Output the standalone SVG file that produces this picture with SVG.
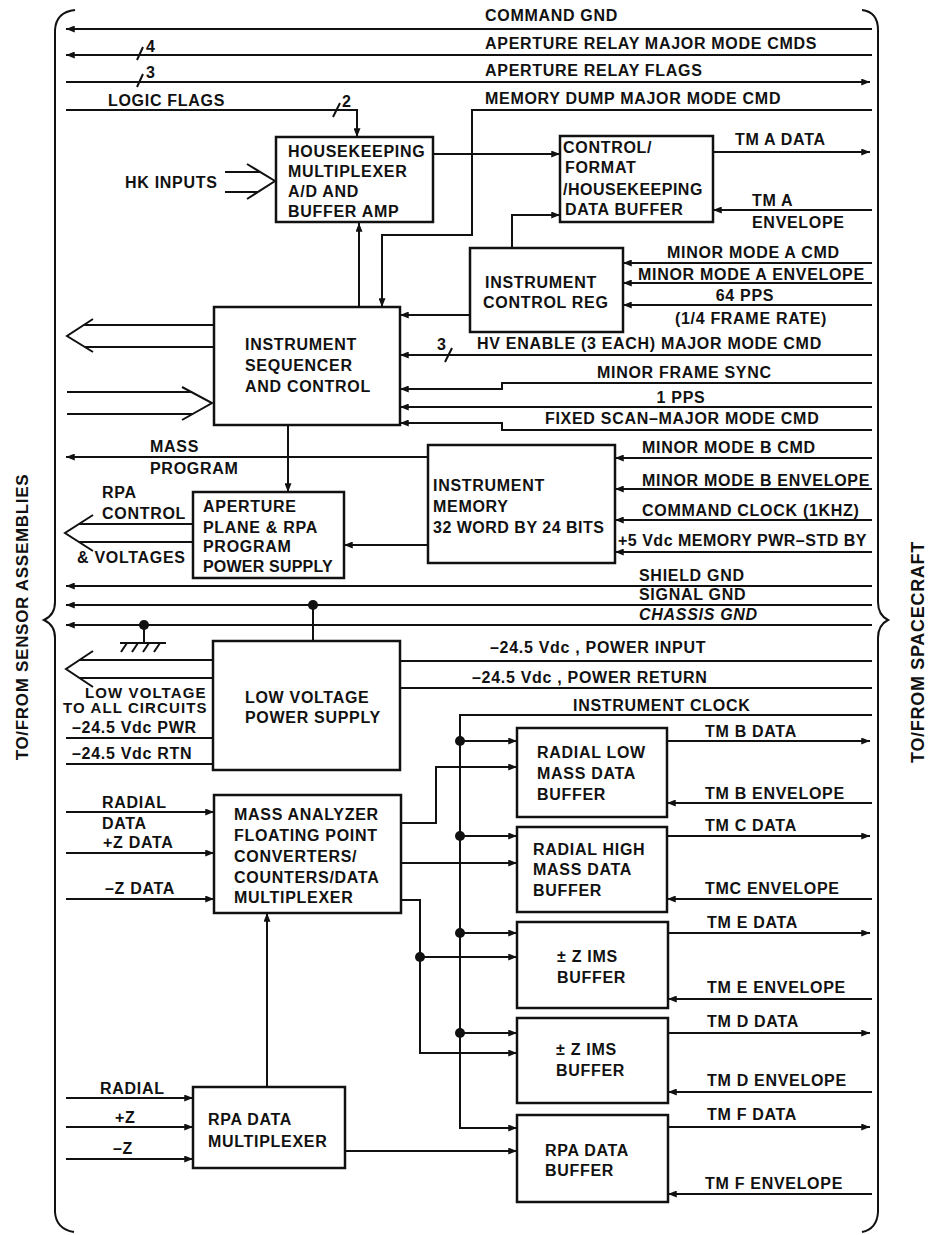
<svg xmlns="http://www.w3.org/2000/svg" width="932" height="1235" viewBox="0 0 932 1235">
<defs>
<style>
text{font-family:"Liberation Sans",Arial,sans-serif;font-weight:bold;font-size:16px;letter-spacing:0.7px;fill:#111}
.m{text-anchor:middle}
.it{font-style:italic}
.s5{letter-spacing:0.5px}
.s3{letter-spacing:0.2px}
.sm{font-size:15px;letter-spacing:1.1px}
.box{fill:#fff;stroke:#111;stroke-width:2.5}
.ln{fill:none;stroke:#111;stroke-width:2}
.ar{marker-end:url(#ah)}
.dot{fill:#111}
</style>
<marker id="ah" viewBox="0 0 10 8" refX="10" refY="4" markerWidth="10" markerHeight="7" markerUnits="userSpaceOnUse" orient="auto"><path d="M0,0 L10,4 L0,8 z" fill="#111"/></marker>
</defs>
<rect width="932" height="1235" fill="#fff"/>

<g id="braces" class="ln">
<path d="M75,10 Q56,12 55,30 V602 Q55,615 44,620 Q55,625 55,638 V1212 Q56,1229 74,1232"/>
<path d="M862,10 Q878,12 878,30 V602 Q878,615 888,620 Q878,625 878,638 V1212 Q877,1229 862,1232"/>
</g>
<text transform="translate(28,617) rotate(-90)" class="m" style="font-size:17px">TO/FROM SENSOR ASSEMBLIES</text>
<text transform="translate(924,652) rotate(-90)" class="m" style="font-size:18px">TO/FROM SPACECRAFT</text>

<g id="connectors" class="ln">
<path class="ar" d="M872,29 H66"/>
<path class="ar" d="M872,55 H66"/>
<path class="ar" d="M66,82 H870"/>
<path class="ar" d="M66,110 H357 V137"/>
<path class="ar" d="M872,110 H472 V235 H382 V307"/>
<path class="ar" d="M433,154 H560"/>
<path class="ar" d="M359,307 V223"/>
<path class="ar" d="M512,248 V215 H560"/>
<path class="ar" d="M713,152 H870"/>
<path class="ar" d="M872,210 H713"/>
<path class="ar" d="M872,263 H623"/>
<path class="ar" d="M872,283 H623"/>
<path class="ar" d="M872,305 H623"/>
<path class="ar" d="M470,315 H400"/>
<path class="ar" d="M872,355 H400"/>
<path class="ar" d="M872,383 H502 V389 H400"/>
<path class="ar" d="M872,407 H400"/>
<path class="ar" d="M872,430 H502 V423 H400"/>
<path class="ar" d="M288,425 V492"/>
<path class="ar" d="M428,457 H66"/>
<path class="ar" d="M872,458 H615"/>
<path class="ar" d="M872,489 H615"/>
<path class="ar" d="M872,520 H615"/>
<path class="ar" d="M872,552 H615"/>
<path class="ar" d="M428,545 H344"/>
<path class="ar" d="M872,586 H66"/>
<path class="ar" d="M872,605 H66"/>
<path class="ar" d="M872,625 H66"/>
<path d="M313,605 V641"/>
<path d="M144,625 V643 M120,643 H166 M127,643 L121,652 M138,643 L132,652 M149,643 L143,652 M160,643 L154,652"/>
<path d="M872,661 H400"/>
<path d="M872,688 H400"/>
<path d="M66,738 H213"/>
<path d="M66,764 H213"/>
<path class="ar" d="M872,715 H460 V1128 H517"/>
<path class="ar" d="M460,741 H517"/>
<path class="ar" d="M460,836 H517"/>
<path class="ar" d="M460,933 H517"/>
<path class="ar" d="M460,1033 H517"/>
<path class="ar" d="M401,823 H436 V767 H517"/>
<path class="ar" d="M401,863 H517"/>
<path class="ar" d="M401,900 H420 V1053 H517"/>
<path class="ar" d="M420,957 H517"/>
<path class="ar" d="M667,741 H870"/>
<path class="ar" d="M872,803 H667"/>
<path class="ar" d="M667,836 H870"/>
<path class="ar" d="M872,899 H667"/>
<path class="ar" d="M668,933 H870"/>
<path class="ar" d="M872,999 H668"/>
<path class="ar" d="M668,1033 H870"/>
<path class="ar" d="M872,1092 H668"/>
<path class="ar" d="M668,1127 H870"/>
<path class="ar" d="M872,1194 H668"/>
<path class="ar" d="M66,812 H214"/>
<path class="ar" d="M66,853 H214"/>
<path class="ar" d="M66,899 H214"/>
<path class="ar" d="M267,1087 V913"/>
<path class="ar" d="M66,1098 H193"/>
<path class="ar" d="M66,1127 H193"/>
<path class="ar" d="M66,1159 H193"/>
<path class="ar" d="M345,1151 H517"/>
<!-- bus arrows -->
<path d="M225,172 H260 M225,192 H258 M247,164 L275,181 L247,199"/>
<path d="M214,325 H84 M214,347 H85 M93,319 L67,336 L93,352"/>
<path d="M67,392 H191 M67,414 H193 M182,387 L212,403 L182,420"/>
<path d="M193,524 H79 M193,542 H79 M93,515 L65,533 L93,551"/>
<path d="M213,660 H80 M213,678 H80 M93,651 L66,669 L93,687"/>
<!-- bus width slashes -->
<path d="M137,60 L143,47 M137,87 L143,74 M333,117 L340,103 M445,362 L452,348"/>
<circle class="dot" cx="313" cy="605" r="5" stroke="none"/>
<circle class="dot" cx="144" cy="625" r="5" stroke="none"/>
<circle class="dot" cx="460" cy="741" r="5" stroke="none"/>
<circle class="dot" cx="460" cy="836" r="5" stroke="none"/>
<circle class="dot" cx="460" cy="933" r="5" stroke="none"/>
<circle class="dot" cx="460" cy="1033" r="5" stroke="none"/>
<circle class="dot" cx="420" cy="957" r="5" stroke="none"/>
</g>

<g id="labels">
<text x="485" y="21">COMMAND GND</text>
<text x="485" y="49">APERTURE RELAY MAJOR MODE CMDS</text>
<text x="485" y="76">APERTURE RELAY FLAGS</text>
<text x="485" y="104">MEMORY DUMP MAJOR MODE CMD</text>
<text x="146" y="52">4</text>
<text x="146" y="78">3</text>
<text x="342" y="107">2</text>
<text x="108" y="106">LOGIC FLAGS</text>
<text x="125" y="188">HK INPUTS</text>
<text x="735" y="145">TM A DATA</text>
<text x="752" y="206">TM A</text>
<text x="752" y="228">ENVELOPE</text>
<text x="667" y="258">MINOR MODE A CMD</text>
<text x="638" y="280">MINOR MODE A ENVELOPE</text>
<text x="745" y="301" class="m">64 PPS</text>
<text x="751" y="324" class="m">(1/4 FRAME RATE)</text>
<text x="437" y="350">3</text>
<text x="477" y="349">HV ENABLE (3 EACH) MAJOR MODE CMD</text>
<text x="597" y="378">MINOR FRAME SYNC</text>
<text x="681" y="403" class="m">1 PPS</text>
<text x="545" y="424">FIXED SCAN–MAJOR MODE CMD</text>
<text x="642" y="453">MINOR MODE B CMD</text>
<text x="642" y="486">MINOR MODE B ENVELOPE</text>
<text x="642" y="516">COMMAND CLOCK (1KHZ)</text>
<text x="618" y="546" class="s5">+5 Vdc  MEMORY PWR–STD BY</text>
<text x="150" y="452">MASS</text>
<text x="150" y="474">PROGRAM</text>
<text x="102" y="498">RPA</text>
<text x="102" y="519">CONTROL</text>
<text x="77" y="563">&amp; VOLTAGES</text>
<text x="639" y="581">SHIELD GND</text>
<text x="639" y="600">SIGNAL GND</text>
<text x="639" y="620" class="it">CHASSIS GND</text>
<text x="490" y="653">–24.5 Vdc , POWER INPUT</text>
<text x="472" y="683">–24.5 Vdc , POWER RETURN</text>
<text x="85" y="698" class="sm">LOW VOLTAGE</text>
<text x="63" y="713" class="sm">TO ALL CIRCUITS</text>
<text x="72" y="733">–24.5 Vdc  PWR</text>
<text x="72" y="759">–24.5 Vdc  RTN</text>
<text x="573" y="711">INSTRUMENT CLOCK</text>
<text x="705" y="737">TM B DATA</text>
<text x="705" y="799">TM B ENVELOPE</text>
<text x="705" y="831">TM C DATA</text>
<text x="705" y="894">TMC ENVELOPE</text>
<text x="707" y="928">TM E DATA</text>
<text x="707" y="993">TM E ENVELOPE</text>
<text x="707" y="1027">TM D DATA</text>
<text x="707" y="1086">TM D ENVELOPE</text>
<text x="707" y="1120">TM F DATA</text>
<text x="705" y="1189">TM F ENVELOPE</text>
<text x="102" y="808">RADIAL</text>
<text x="102" y="829">DATA</text>
<text x="103" y="848">+Z DATA</text>
<text x="105" y="894">–Z DATA</text>
<text x="100" y="1094">RADIAL</text>
<text x="115" y="1123">+Z</text>
<text x="113" y="1154">–Z</text>
</g>

<g id="hk-mux">
<rect class="box" x="276" y="137" width="157" height="85"/>
<text x="288" y="157">HOUSEKEEPING</text>
<text x="288" y="177">MULTIPLEXER</text>
<text x="288" y="197">A/D AND</text>
<text x="288" y="217">BUFFER AMP</text>
</g>
<g id="control-format">
<rect class="box" x="560" y="136" width="153" height="86"/>
<text x="563" y="153">CONTROL/</text>
<text x="565" y="173">FORMAT</text>
<text x="563" y="195" class="s5">/HOUSEKEEPING</text>
<text x="565" y="215">DATA BUFFER</text>
</g>
<g id="instrument-control-reg">
<rect class="box" x="470" y="248" width="153" height="84"/>
<text x="485" y="288">INSTRUMENT</text>
<text x="483" y="308">CONTROL REG</text>
</g>
<g id="sequencer">
<rect class="box" x="214" y="307" width="186" height="118"/>
<text x="245" y="350">INSTRUMENT</text>
<text x="245" y="371">SEQUENCER</text>
<text x="245" y="392">AND CONTROL</text>
</g>
<g id="memory">
<rect class="box" x="428" y="445" width="187" height="118"/>
<text x="433" y="491">INSTRUMENT</text>
<text x="433" y="512">MEMORY</text>
<text x="433" y="533" class="s5">32 WORD BY 24 BITS</text>
</g>
<g id="aperture-ps">
<rect class="box" x="193" y="492" width="151" height="86"/>
<text x="203" y="512">APERTURE</text>
<text x="203" y="533">PLANE &amp; RPA</text>
<text x="203" y="552">PROGRAM</text>
<text x="203" y="572" class="s3">POWER SUPPLY</text>
</g>
<g id="lv-ps">
<rect class="box" x="213" y="641" width="187" height="129"/>
<text x="245" y="703">LOW VOLTAGE</text>
<text x="245" y="723">POWER SUPPLY</text>
</g>
<g id="mass-analyzer">
<rect class="box" x="214" y="795" width="187" height="118"/>
<text x="234" y="820">MASS ANALYZER</text>
<text x="234" y="841">FLOATING POINT</text>
<text x="234" y="862">CONVERTERS/</text>
<text x="234" y="883">COUNTERS/DATA</text>
<text x="234" y="903">MULTIPLEXER</text>
</g>
<g id="rpa-mux">
<rect class="box" x="193" y="1087" width="152" height="81"/>
<text x="208" y="1125">RPA DATA</text>
<text x="208" y="1147">MULTIPLEXER</text>
</g>
<g id="radial-low">
<rect class="box" x="517" y="728" width="150" height="89"/>
<text x="537" y="758">RADIAL LOW</text>
<text x="537" y="779">MASS DATA</text>
<text x="537" y="800">BUFFER</text>
</g>
<g id="radial-high">
<rect class="box" x="517" y="827" width="150" height="85"/>
<text x="533" y="855">RADIAL HIGH</text>
<text x="533" y="875">MASS DATA</text>
<text x="533" y="896">BUFFER</text>
</g>
<g id="zims-e">
<rect class="box" x="517" y="922" width="151" height="86"/>
<text x="557" y="962">± Z IMS</text>
<text x="557" y="983">BUFFER</text>
</g>
<g id="zims-d">
<rect class="box" x="517" y="1018" width="151" height="85"/>
<text x="556" y="1055">± Z IMS</text>
<text x="556" y="1076">BUFFER</text>
</g>
<g id="rpa-buffer">
<rect class="box" x="517" y="1115" width="151" height="87"/>
<text x="545" y="1156">RPA DATA</text>
<text x="545" y="1176">BUFFER</text>
</g>
</svg>
